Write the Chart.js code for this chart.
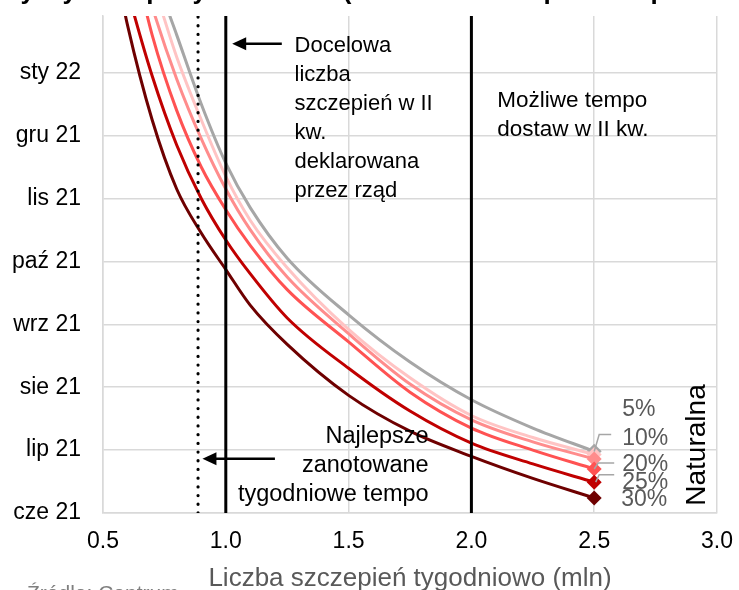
<!DOCTYPE html>
<html><head><meta charset="utf-8">
<script src="https://cdn.jsdelivr.net/npm/chart.js@4"></script>
<style>html,body{margin:0;padding:0;background:#fff;overflow:hidden}#wrap{position:relative;width:739px;height:590px}</style>
</head><body><div id="wrap"><canvas id="c"></canvas></div>
<script>
// ---- data ----
const monthLabels = ['cze 21','lip 21','sie 21','wrz 21','paź 21','lis 21','gru 21','sty 22'];
const xTickLabels = ['0.5','1.0','1.5','2.0','2.5','3.0'];
const seriesNames = ['5%','10%','15%','20%','25%','30%'];
const x5  = [0.7,0.75,0.8,0.9,1.0,1.1,1.25,1.5,1.75,2.0,2.25,2.5];
const y5  = [8.8,8.15,7.6,6.5,5.56,4.85,4.05,3.15,2.4,1.80,1.35,0.98];
const x10 = [0.68,0.75,0.8,0.9,1.0,1.1,1.25,1.5,1.75,2.0,2.25,2.5];
const y10 = [8.75,7.85,7.25,6.25,5.35,4.65,3.9,2.92,2.15,1.55,1.2,0.93];
const x15 = [0.66,0.7,0.8,0.9,1.0,1.1,1.25,1.5,1.75,2.0,2.25,2.5];
const y15 = [8.6,8.05,6.9,5.95,5.15,4.5,3.75,2.85,2.05,1.48,1.13,0.86];
const x20 = [0.62,0.7,0.8,0.9,1.0,1.1,1.25,1.5,1.75,2.0,2.25,2.5];
const y20 = [8.9,7.6,6.4,5.5,4.82,4.25,3.55,2.72,1.92,1.35,1.0,0.70];
const x25 = [0.58,0.6,0.7,0.8,0.9,1.0,1.1,1.25,1.5,1.75,2.0,2.25,2.5];
const y25 = [8.6,8.3,6.95,5.85,5.0,4.34,3.8,3.1,2.3,1.62,1.11,0.78,0.49];
const x30 = [0.55,0.6,0.7,0.8,0.9,1.0,1.1,1.25,1.5,1.75,2.0,2.25,2.5];
const y30 = [8.7,7.75,6.25,5.15,4.45,3.87,3.3,2.68,1.87,1.3,0.9,0.55,0.24];
const bestWeeklyRate = 0.887;   // dotted line
const targetRate = 1.0;         // solid line
const supplyRate = 2.0;         // solid line
const yMin = 0, yMax = 7.9;

// ---- styles ----
const colors = ['#A6A6A6','#FFC4C4','#FF8C8C','#FF5252','#C00000','#6E0000'];
const FONT = '"Liberation Sans", Arial, sans-serif';

const xs = [x5,x10,x15,x20,x25,x30], ys = [y5,y10,y15,y20,y25,y30];
const toPts = (xa, ya) => xa.map((v,i)=>({x:v, y:ya[i]}));

const datasets = seriesNames.map((n,i)=>({
  label: n,
  data: toPts(xs[i], ys[i]),
  borderColor: colors[i],
  backgroundColor: colors[i],
  borderWidth: 3,
  cubicInterpolationMode: 'monotone',
  pointStyle: 'rectRot',
  pointRadius: ctx => ctx.dataIndex === xs[i].length-1 ? 7.5 : 0,
  pointHoverRadius: 0,
  pointBorderWidth: 0,
  order: 10 - i
}));
function vline(x, dashed){
  return {label:'v'+x, data:[{x:x,y:yMin},{x:x,y:yMax}], borderColor:'#000', borderWidth: dashed?3.2:3,
    borderDash: dashed?[0.1,8.6]:[], borderCapStyle: dashed?'round':'butt', pointRadius:0, order:0};
}
datasets.push(vline(bestWeeklyRate,true), vline(targetRate,false), vline(supplyRate,false));

const notes = [
  {lines:['Docelowa','liczba','szczepień w II','kw.','deklarowana','przez rząd'], x:1.28, y:7.42, align:'left', size:22},
  {lines:['Możliwe tempo','dostaw w II kw.'], x:2.105, y:6.55, align:'left', size:22.5},
  {lines:['Najlepsze','zanotowane','tygodniowe tempo'], x:1.826, y:1.21, align:'right', size:23.5}
];
const arrows = [
  {x1:1.228, x2:1.026, y:7.46},
  {x1:1.20, x2:0.905, y:0.863}
];
// label offsets from the end point of each series (px)
const endLabels = [
  {s:0, text:'5%',  dx:28, dy:-42, leader:null},
  {s:1, text:'10%', dx:28, dy:-16, leader:[[17,-20],[5,-20],[0,-3]]},
  {s:3, text:'20%', dx:28, dy:-4,  leader:[[20,-6],[4,-6],[0,0]]},
  {s:4, text:'25%', dx:28, dy:0.5, leader:[[20,-7.5],[5,-7.5],[1.5,0]]},
  {s:5, text:'30%', dx:27, dy:1.5, leader:null}
];

const deco = {
  id:'deco',
  afterDatasetsDraw(chart){
    const {ctx, scales:{x,y}} = chart;
    ctx.save();
    // annotation texts
    ctx.fillStyle = '#000';
    ctx.textBaseline = 'middle';
    notes.forEach(n=>{
      ctx.font = n.size + 'px ' + FONT;
      ctx.textAlign = n.align;
      const px = x.getPixelForValue(n.x), py = y.getPixelForValue(n.y);
      n.lines.forEach((t,k)=>ctx.fillText(t, px, py + k*29));
    });
    // arrows
    arrows.forEach(a=>{
      const p1 = x.getPixelForValue(a.x1), p2 = x.getPixelForValue(a.x2), py = y.getPixelForValue(a.y);
      ctx.strokeStyle = '#000'; ctx.lineWidth = 2.5;
      ctx.beginPath(); ctx.moveTo(p1, py); ctx.lineTo(p2+10, py); ctx.stroke();
      ctx.beginPath(); ctx.moveTo(p2, py); ctx.lineTo(p2+14, py-6.5); ctx.lineTo(p2+14, py+6.5); ctx.closePath(); ctx.fill();
    });
    // end labels
    ctx.font = '23px ' + FONT;
    ctx.textAlign = 'left';
    endLabels.forEach(l=>{
      const d = xs[l.s].length-1;
      const ex = x.getPixelForValue(xs[l.s][d]), ey = y.getPixelForValue(ys[l.s][d]);
      if (l.leader){
        ctx.strokeStyle = '#A6A6A6'; ctx.lineWidth = 1.5;
        ctx.beginPath();
        l.leader.forEach((p,k)=> k? ctx.lineTo(ex+p[0], ey+p[1]) : ctx.moveTo(ex+p[0], ey+p[1]));
        ctx.stroke();
      }
      ctx.fillStyle = '#595959';
      ctx.fillText(l.text, ex + l.dx, ey + l.dy);
    });
    // Naturalna (rotated)
    ctx.save();
    ctx.fillStyle = '#000';
    ctx.font = '28px ' + FONT;
    ctx.translate(697, 445);
    ctx.rotate(-Math.PI/2);
    ctx.textAlign = 'center'; ctx.textBaseline = 'middle';
    ctx.fillText('Naturalna', 0, 0);
    ctx.restore();
    // title (cut at top) and source (cut at bottom)
    ctx.fillStyle = '#000';
    ctx.font = 'bold 26px ' + FONT;
    ctx.textAlign = 'center'; ctx.textBaseline = 'alphabetic';
    ctx.fillText('Kiedy wyszczepimy Polaków? (zależnie od tempa szczepień i odporności)', 420, -1);
    ctx.fillStyle = '#7F7F7F';
    ctx.font = '21px ' + FONT;
    ctx.textAlign = 'left';
    ctx.fillText('Źródło: Centrum', 27, 600);
    ctx.restore();
  }
};

new Chart(document.getElementById('c'), {
  type:'line',
  data:{datasets},
  options:{
    responsive:true, maintainAspectRatio:false, animation:false,
    layout:{padding:{top:16, right:22, left:0, bottom:0}},
    plugins:{legend:{display:false}, tooltip:{enabled:false}},
    scales:{
      x:{type:'linear', min:0.5, max:3.0,
        afterFit(s){ s.height = 77; s.paddingLeft = 0; s.paddingRight = 0; },
        grid:{color:'#D9D9D9', lineWidth:1.5, drawTicks:false},
        border:{color:'#D9D9D9', width:1.5},
        ticks:{stepSize:0.5, padding:15, color:'#000', font:{family:FONT, size:23},
          callback:(v)=>{ const i = Math.round((v-0.5)/0.5); return xTickLabels[i] ?? ''; }},
        title:{display:true, text:'Liczba szczepień tygodniowo (mln)', color:'#595959', font:{family:FONT, size:26}, padding:{top:0,bottom:-4}}
      },
      y:{type:'linear', min:yMin, max:yMax,
        afterFit(s){ s.width = 103; s.paddingTop = 0; s.paddingBottom = 0; },
        grid:{color:'#D9D9D9', lineWidth:1.5, drawTicks:false},
        border:{color:'#D9D9D9', width:1.5},
        ticks:{stepSize:1, includeBounds:false, padding:22, color:'#000', font:{family:FONT, size:23},
          callback:(v)=> monthLabels[Math.round(v)] ?? ''}
      }
    }
  },
  plugins:[deco]
});
</script></body></html>
